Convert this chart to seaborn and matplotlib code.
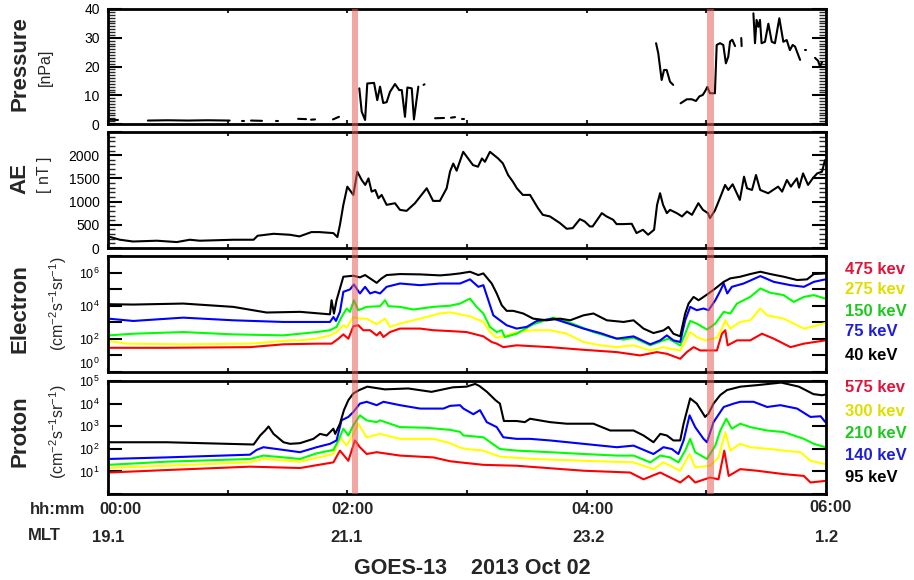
import numpy as np
import pandas as pd
import matplotlib
matplotlib.use("Agg")
import matplotlib.pyplot as plt
import seaborn as sns
from matplotlib.ticker import MultipleLocator, FixedLocator, FuncFormatter, LogLocator, NullFormatter, NullLocator

# ---------------- data (time in minutes after 00:00 UT) ----------------
# Solar-wind dynamic pressure [nPa]; NaN marks data gaps
pres_t = [1.0, 5.0, np.nan,
          20, 30, 40, 50, 61, np.nan,
          67.2, 68.2, np.nan,
          71.7, 77.2, np.nan,
          84.3, 85.1, np.nan,
          95.3, 99.3, np.nan,
          101.8, 103.8, np.nan,
          112.8, 115.8, np.nan,
          126, 127.2, 128.9, 130, 133.4, 135, 136.4, 138, 139.7, 141.4, 143.9, 146, 147.3,
          148.9, 150.1, 152.3, 153.4, 155.6, np.nan,
          158.2, 158.7, np.nan,
          164, 168.5, np.nan,
          172, 174, np.nan,
          177.7, 178.3, np.nan,
          274.8, 275.9, 277.6, 278.8, 280.1, 281.8, 283.4, np.nan,
          287.1, 290.2, 292.7, 294.8, 296.5, 298.2, 299.3, 300.5, 301.8, 304.3, 305.2, 306.9,
          308.5, 309.8, 311.0, 311.9, 313.0, 314.4, np.nan,
          317.5, 317.7, np.nan,
          323.6, 324.4, 325.2, 326.1, 326.9, 327.7, 329.4, 331.1, 332.8, 334.4, 336.6, 338.6,
          340.3, 341.9, 343.3, 344.5, 347.0, np.nan,
          349.3, 349.8, np.nan,
          354.5, 356, 357, 358]
pres_nPa = [1.5, 1.4, np.nan,
            1.2, 1.3, 1.2, 1.3, 1.2, np.nan,
            1.0, 1.0, np.nan,
            1.2, 1.1, np.nan,
            0.9, 0.9, np.nan,
            1.8, 1.7, np.nan,
            1.5, 1.6, np.nan,
            1.6, 2.5, np.nan,
            12.4, 4.3, 1.4, 14.1, 14.3, 8.3, 13.0, 7.3, 7.6, 11.2, 13.9, 11.8, 11.8,
            2.5, 12.7, 12.4, 1.6, 13.0, np.nan,
            13.6, 13.8, np.nan,
            2.0, 2.1, np.nan,
            2.2, 2.4, np.nan,
            1.7, 1.7, np.nan,
            28.1, 24.6, 15.3, 18.8, 18.8, 14.7, 13.6, np.nan,
            7.2, 8.6, 8.6, 8.0, 9.6, 10.1, 11.3, 12.9, 10.7, 10.7, 27.5, 28.1,
            27.5, 21.1, 23.4, 28.7, 29.3, 27.1, np.nan,
            29.9, 27.1, np.nan,
            38.5, 28.1, 36.2, 33.8, 36.2, 28.1, 28.6, 34.9, 28.6, 28.1, 36.8, 28.6,
            29.2, 25.7, 27.5, 26.9, 22.3, np.nan,
            25.7, 25.7, np.nan,
            23, 22, 20, 21.5]

# AE index [nT]
ae_t = [0, 6, 12.5, 24.5, 34.5, 41, 46, 63, 73, 75, 83, 91.3, 96, 102, 106, 113, 115, 116.3,
        118, 120, 123, 125, 127.2, 129, 130.6, 132.2, 134, 135.6, 137.2, 139.7, 143.9, 146.4,
        149.7, 153.9, 159.8, 163, 166.4, 169.8, 171.5, 173.1, 174.8, 178.1, 183, 185.5, 187.5,
        189, 191.5, 195.6, 198, 200.6, 203, 205, 208, 211.6, 215.6, 218, 221.6, 226.6, 230,
        233, 236.6, 239, 241.6, 243, 247.6, 250, 253.3, 255, 258.2, 262.6, 265, 268.2, 270.8,
        273.8, 275.3, 276.8, 278.3, 280.2, 281.8, 285.2, 287.8, 290.3, 292.8, 296, 298.3,
        300.8, 301.8, 304.3, 306.8, 309.4, 311, 313.2, 316.8, 318.9, 320.4, 322.9, 324.9, 327,
        331, 336, 338, 340.4, 342.4, 345.4, 346.5, 348.5, 351, 353.6, 355.6, 358, 359.5]
ae_nT = [250, 178, 140, 157, 128, 178, 157, 178, 178, 264, 306, 285, 250, 343, 343, 321, 236,
         500, 930, 1322, 1144, 1644, 1466, 1359, 1500, 1215, 1250, 1073, 1144, 930, 965, 822,
         800, 965, 1287, 1015, 1015, 1287, 1650, 1820, 1666, 2073, 1787, 1752, 1930,
         1858, 2073, 1930, 1823, 1573, 1430, 1287, 1144, 1144, 858, 715, 680, 537, 414,
         429, 622, 572, 465, 465, 751, 680, 608, 515, 515, 522, 322, 393, 286,
         393, 930, 1180, 930, 751, 822, 751, 680, 787, 715, 965, 822,
         751, 644, 808, 1073, 1359, 1251, 1373, 1037, 1537, 1287, 1251, 1573, 1251,
         1180, 1323, 1215, 1466, 1323, 1501, 1301, 1608, 1359, 1516, 1608, 1644, 1894]

# Electron flux, log10(cm^-2 s^-1 sr^-1)
e40_t = [0.2, 12.7, 37.7, 62.8, 79.5, 96.3, 111.3, 112.1, 113.3, 114.6, 116.3, 118, 123, 126.3,
         128.9, 131.4, 134.7, 137.2, 139.7, 146.4, 156.5, 166.5, 171.5, 176.5, 181.5, 185.7,
         188.2, 192.4, 194.9, 197.4, 199.9, 203.2, 208.2, 213.2, 219.9, 226.6, 231.7, 238.4,
         243.4, 250.1, 258.5, 263.5, 268.5, 273.5, 278.5, 281, 283.5, 286.9, 289.4, 291.1,
         293.6, 296.1, 298.6, 301.1, 304.5, 308.7, 312, 317, 322, 327.1, 332.1, 338.8, 345.5,
         350.5, 353.9, 359.7]
e40_log = [4.09, 4.07, 4.13, 3.93, 3.59, 3.63, 3.48, 4.33, 3.52, 4.33, 5.04, 5.75, 5.81, 5.71,
           5.85, 5.65, 5.38, 5.65, 5.85, 5.91, 5.89, 5.83, 5.88, 5.95, 6.05, 5.85,
           5.95, 5.34, 4.74, 4.03, 3.69, 3.69, 3.53, 3.22, 3.12, 3.22, 3.12, 3.42,
           3.53, 3.12, 3.02, 3.12, 2.62, 2.35, 2.51, 2.72, 2.31, 2.15, 3.53, 4.13,
           4.53, 4.33, 4.53, 4.74, 5.04, 5.44, 5.65, 5.75, 5.91, 6.05, 5.91, 5.75, 5.55,
           5.59, 5.91, 5.95]

e75_t = [0.2, 12.7, 37.7, 62.8, 87.9, 111.3, 113, 114.3, 116.3, 118, 121.3, 123.3, 126.3, 128.9,
         131.4, 133.9, 136.4, 139.7, 146.4, 156.5, 166.5, 171.5, 176.5, 181.5, 185.7, 188.2,
         190.7, 193.2, 196.5, 199.9, 204.9, 209.9, 215, 223.3, 230, 238.4, 246.8, 255.1, 263.5,
         271.9, 276.9, 280.2, 283.5, 286.9, 289.4, 291.9, 295.2, 298.6, 301.1, 304.5, 307,
         308.7, 310.5, 312.8, 318.7, 327.1, 333.8, 342.2, 348.9, 353.9, 359.7]
e75_log = [3.22, 3.08, 3.28, 3.12, 3.02, 3.02, 3.32, 3.08, 3.63, 4.84, 4.98, 5.28, 4.74, 5.14,
           4.74, 4.84, 4.74, 5.14, 5.34, 5.24, 5.34, 5.34, 5.34, 5.59, 5.14, 5.24,
           4.33, 3.42, 3.12, 2.82, 2.62, 2.72, 3.08, 3.22, 2.96, 2.62, 2.35, 2.01, 2.15,
           1.67, 1.91, 2.21, 1.91, 1.81, 3.12, 3.93, 3.73, 3.83, 3.73, 4.33, 4.9,
           5.34, 4.74, 5.14, 5.34, 5.79, 5.44, 5.24, 5.14, 5.44, 5.59]

e150_t = [0.2, 12.7, 37.7, 62.8, 87.9, 104.6, 111.3, 114.6, 117.1, 119.7, 121.3, 123.3, 125.5,
          129.7, 136.4, 138.9, 140.6, 146.4, 153.1, 163.1, 171.5, 176.5, 181.5, 184.8, 188.2,
          191.5, 194.9, 197.4, 199, 204.9, 213.2, 223.3, 228.3, 235, 243.4, 251.8, 258.5, 263.5,
          271.9, 278.5, 281, 286.9, 289.4, 291.9, 295.2, 300.3, 304.5, 308.7, 312, 315.4, 322,
          327.1, 332.1, 338.8, 343.8, 348.9, 353.9, 359.7]
e150_log = [2.21, 2.31, 2.41, 2.27, 2.21, 2.41, 2.52, 2.72, 3.32, 3.83, 3.63, 4.33, 3.73,
            3.93, 3.97, 4.33, 3.97, 3.93, 3.77, 3.93, 4.0, 4.13, 4.43, 3.93, 3.53,
            2.72, 2.41, 2.52, 2.11, 2.31, 2.88, 3.28, 3.12, 2.82, 2.41, 2.11, 1.95, 2.07,
            1.61, 1.91, 2.01, 1.61, 2.31, 3.08, 2.92, 2.56, 2.92, 3.63, 3.53, 4.13, 4.53,
            5.04, 4.78, 4.64, 4.23, 4.53, 4.64, 4.43]

e275_t = [0.2, 9.4, 37.7, 71.2, 91.3, 96.3, 104.6, 111.3, 114.6, 118, 119.7, 123, 126.3, 129.7,
          134.7, 138.9, 141.4, 146.4, 156.5, 166.5, 171.5, 181.5, 188.2, 191.5, 194.9, 198.2,
          204.9, 213.2, 221.6, 230, 238.4, 246.8, 255.1, 263.5, 271.9, 278.5, 281.8, 286.9,
          289.4, 291.9, 295.2, 299.4, 305.3, 307.8, 309.5, 312, 317, 322, 327.1, 330.5, 338.8,
          348.9, 353.9, 359.7]
e275_log = [1.87, 1.71, 1.67, 1.71, 1.91, 1.91, 2.01, 2.21, 2.41, 2.82, 2.68, 3.32, 3.22, 3.22,
            2.88, 3.22, 2.72, 2.92, 3.22, 3.53, 3.6, 3.36, 3.02, 2.41, 2.07, 2.15,
            2.41, 2.52, 2.52, 2.31, 1.81, 1.61, 1.50, 1.61, 1.30, 1.50, 1.40, 1.30,
            1.81, 2.41, 2.11, 1.91, 2.07, 2.62, 3.12, 2.62, 3.02, 3.12, 3.83, 3.42, 3.22,
            2.62, 2.76, 2.96]

e475_t = [0.2, 29.4, 71.2, 87.9, 104.6, 112.1, 115.5, 118, 120.5, 123, 125.5, 128, 131.4,
          134.7, 136.4, 138.1, 141.4, 146.4, 156.5, 163.1, 171.5, 179.8, 188.2, 192.4, 194.9,
          198.2, 204.9, 221.6, 238.4, 255.1, 266.8, 275.2, 280.2, 286.9, 290.2, 293.6, 296.9,
          305.3, 307.8, 309.5, 310.7, 315.4, 322, 327.9, 333.8, 342.2, 348.9, 359.7]
e475_log = [1.46, 1.46, 1.50, 1.67, 1.71, 1.71, 2.01, 2.27, 2.01, 2.76, 2.82, 2.52, 2.52,
            2.21, 2.41, 2.11, 2.41, 2.62, 2.62, 2.52, 2.47, 2.41, 2.15, 1.81, 1.71,
            1.50, 1.61, 1.50, 1.34, 1.20, 1.00, 1.20, 1.10, 0.80, 1.20, 1.50, 1.30,
            1.30, 2.31, 2.52, 1.61, 1.91, 1.91, 2.31, 2.01, 1.50, 1.71, 1.91]

# Proton flux, log10(cm^-2 s^-1 sr^-1)
p95_t = [0.2, 29.4, 73, 76.3, 78.8, 80.5, 83, 88, 91.3, 96.3, 103, 106.3, 109.7, 113, 113.9,
         116.3, 118.3, 120.5, 123, 126, 130, 138.8, 150.5, 162.2, 172.9, 179.7, 184.1, 186.2,
         190, 194.3, 196.5, 198.5, 204.9, 209, 211.6, 221.6, 230, 243.4, 251.8, 263.5, 268.5,
         273.5, 276.9, 280.2, 283.5, 286.9, 288.6, 291.9, 295.2, 299.4, 301.1, 303.6, 307,
         310.4, 317.1, 325.9, 337.5, 346.4, 353.7, 358, 359.7]
p95_log = [2.29, 2.29, 2.19, 2.59, 2.81, 2.99, 2.66, 2.29, 2.22, 2.25, 2.44, 2.66, 2.59, 2.89,
           2.66, 3.11, 3.71, 4.15, 4.45, 4.6, 4.75, 4.63, 4.67, 4.52, 4.72, 4.75, 4.87, 4.78,
           4.52, 4.15, 4.0, 3.23, 3.23, 3.18, 3.33, 3.18, 3.11, 3.11, 2.81, 2.81, 2.59,
           2.29, 2.66, 2.59, 2.37, 2.37, 3.11, 4.23, 4.0, 3.41, 3.56, 4.0, 4.38,
           4.6, 4.75, 4.82, 4.93, 4.75, 4.42, 4.37, 4.4]

p140_t = [0.2, 29.4, 71.2, 74.5, 77.9, 88, 96.3, 104.6, 111.3, 114.6, 117.1, 120.5, 123, 126.3,
          129.7, 134.7, 138.1, 146.4, 156.5, 168.2, 171.5, 176.5, 178.2, 183.2, 186.5, 189.9,
          194.9, 198.2, 204.9, 211.6, 221.6, 238.4, 255.1, 263.5, 273.5, 278.5, 282.7, 286,
          288.6, 291.6, 294.4, 298.6, 300.3, 303.6, 308.7, 313.7, 317, 323.7, 330.5, 337.1,
          345.5, 352.2, 357.3, 359.7]
p140_log = [1.55, 1.62, 1.74, 1.95, 2.07, 1.95, 1.85, 2.07, 2.22, 2.37, 3.26, 3.41, 3.63, 4.0,
            4.08, 3.93, 4.08, 3.93, 3.78, 3.78, 3.9, 3.93, 3.78, 3.53, 3.71, 3.18,
            2.96, 2.51, 2.44, 2.44, 2.37, 2.22, 2.07, 2.14, 1.77, 2.07, 1.99, 1.77,
            2.37, 3.48, 2.96, 2.44, 2.29, 3.18, 3.85, 4.0, 4.08, 4.08, 3.85, 3.93,
            3.78, 3.41, 3.44, 3.18]

p210_t = [0.2, 29.4, 71.2, 77.9, 88, 96.3, 104.6, 113, 115.5, 118, 120.5, 123, 126.3, 129.7,
          134.7, 136.4, 146.4, 159.8, 171.5, 176.5, 178.2, 188.2, 196.5, 204.9, 221.6, 238.4,
          255.1, 263.5, 271.9, 276.9, 281.8, 286, 289.4, 291.9, 294.4, 300.3, 304.5, 307, 310,
          312.8, 317, 322, 330.5, 338.8, 348.9, 353.9, 359.7]
p210_log = [1.29, 1.43, 1.55, 1.70, 1.62, 1.55, 1.80, 1.95, 2.37, 2.89, 2.59, 3.04, 3.48, 3.26,
            3.18, 3.26, 2.96, 2.93, 2.84, 2.75, 2.59, 2.51, 1.99, 1.92, 1.85, 1.77,
            1.70, 1.70, 1.40, 1.70, 1.62, 1.40, 1.92, 2.44, 1.85, 1.55, 2.14, 2.81, 3.33,
            2.89, 3.11, 2.96, 2.81, 2.74, 2.44, 2.22, 2.07]

p300_t = [0.2, 29.4, 71.2, 77.9, 96.3, 113, 116.3, 119.7, 123, 125.5, 129.7, 136.4, 146.4, 163.1,
          171.5, 176.5, 179.8, 188.2, 196.5, 213.2, 238.4, 263.5, 273.5, 278.5, 286.9, 291.6,
          294.4, 301.9, 306.1, 309.5, 312, 317, 322, 332.1, 338.8, 347.2, 352.2, 359.7]
p300_log = [1.15, 1.25, 1.40, 1.55, 1.43, 1.77, 2.51, 2.14, 2.66, 3.11, 2.51, 2.66, 2.44, 2.44,
            2.25, 2.05, 1.99, 1.92, 1.65, 1.55, 1.47, 1.40, 1.10, 1.40, 1.03, 1.77,
            1.18, 1.25, 1.62, 2.74, 1.92, 2.22, 2.07, 1.99, 1.92, 1.85, 1.47, 1.32]

p575_t = [0.2, 29.4, 71.2, 96.3, 113, 116.3, 120.5, 123.8, 126.3, 129.7, 134.7, 146.4, 163.1,
          171.5, 176.5, 188.2, 204.9, 238.4, 261.8, 268.5, 276.9, 286.9, 291.1, 294.4, 301.9,
          306.1, 309, 311.2, 317, 325.4, 338.8, 348.9, 352.2, 359.7]
p575_log = [0.95, 1.06, 1.21, 1.15, 1.40, 1.92, 1.47, 2.37, 2.07, 1.77, 1.85, 1.70, 1.62,
            1.45, 1.40, 1.29, 1.25, 1.03, 0.95, 0.65, 0.95, 0.51, 0.80, 0.51, 0.73,
            0.65, 1.92, 0.80, 1.10, 1.03, 0.88, 0.80, 0.51, 0.58]

# Channel names, in the order they are listed beside the panels
elec_names = ["475 kev", "275 kev", "150 keV", "75 keV", "40 keV"]
prot_names = ["575 kev", "300 kev", "210 keV", "140 keV", "95 keV"]

# Substorm onset markers (minutes)
onset_windows = [(122.2, 125.5), (300.5, 303.8)]

# Bottom annotations
ut_labels = ["00:00", "02:00", "04:00", "06:00"]
mlt_labels = ["19.1", "21.1", "23.2", "1.2"]
title_text = "GOES-13    2013 Oct 02"

# ---------------- styling ----------------
sns.set_style("white")
plt.rcParams["font.family"] = ["Liberation Sans", "DejaVu Sans"]
plt.rcParams["mathtext.fontset"] = "custom"
plt.rcParams["mathtext.rm"] = "Liberation Sans"
plt.rcParams["mathtext.it"] = "Liberation Sans:italic"
plt.rcParams["mathtext.bf"] = "Liberation Sans:bold"

line_colors = ["#ff0000", "#ffff00", "#00ff00", "#0000ff", "#000000"]
text_colors = ["#e0153c", "#dede00", "#1ec81e", "#1e1ed8", "#000000"]

W_PX, H_PX = 914, 580
fig = plt.figure(figsize=(W_PX / 100, H_PX / 100), dpi=100)
X0, X1 = 108, 826


def panel(top, bottom):
    return fig.add_axes([X0 / W_PX, 1 - bottom / H_PX, (X1 - X0) / W_PX, (bottom - top) / H_PX])


ax_p = panel(9, 124)
ax_ae = panel(132, 248)
ax_e = panel(256, 372)
ax_pr = panel(381, 494)
axes = [ax_p, ax_ae, ax_e, ax_pr]

# ---------------- draw data ----------------
pres = pd.DataFrame({"t": pres_t, "p": pres_nPa})
pres["seg"] = pres["p"].isna().cumsum()
pres = pres.dropna()
sns.lineplot(data=pres, x="t", y="p", units="seg", estimator=None, color="black",
             lw=1.5, ax=ax_p, sort=False)

ae = pd.DataFrame({"t": ae_t, "ae": ae_nT})
sns.lineplot(data=ae, x="t", y="ae", estimator=None, color="black", lw=1.5, ax=ax_ae)


def flux_frame(names, times, logs):
    parts = []
    for n, t, v in zip(names, times, logs):
        parts.append(pd.DataFrame({"t": t, "flux": np.power(10.0, v), "channel": n}))
    return pd.concat(parts, ignore_index=True)


elec = flux_frame(elec_names,
                  [e475_t, e275_t, e150_t, e75_t, e40_t],
                  [e475_log, e275_log, e150_log, e75_log, e40_log])
prot = flux_frame(prot_names,
                  [p575_t, p300_t, p210_t, p140_t, p95_t],
                  [p575_log, p300_log, p210_log, p140_log, p95_log])

for ax, df, names in [(ax_e, elec, elec_names), (ax_pr, prot, prot_names)]:
    ax.set_yscale("log")
    sns.lineplot(data=df, x="t", y="flux", hue="channel", hue_order=names,
                 palette=dict(zip(names, line_colors)), estimator=None,
                 legend=False, lw=1.5, ax=ax)

# ---------------- axes ----------------
ax_p.set_ylim(0, 40)
ax_p.yaxis.set_major_locator(MultipleLocator(10))
ax_p.yaxis.set_minor_locator(MultipleLocator(1))

ax_ae.set_ylim(0, 2500)
ax_ae.yaxis.set_major_locator(FixedLocator([0, 500, 1000, 1500, 2000, 2500]))
ax_ae.yaxis.set_major_formatter(FuncFormatter(lambda v, p: "" if v > 2000 else f"{v:.0f}"))
ax_ae.yaxis.set_minor_locator(MultipleLocator(100))

ax_e.set_ylim(1, 1e7)
ax_e.yaxis.set_major_locator(FixedLocator([10.0 ** k for k in range(8)]))
ax_e.yaxis.set_major_formatter(FuncFormatter(
    lambda v, p: (r"$\mathregular{10^{%d}}$" % round(np.log10(v))) if round(np.log10(v)) % 2 == 0
    and v < 1e7 else ""))
ax_e.yaxis.set_minor_locator(NullLocator())

ax_pr.set_ylim(1, 1e5)
ax_pr.yaxis.set_major_locator(FixedLocator([10.0 ** k for k in range(6)]))
ax_pr.yaxis.set_major_formatter(FuncFormatter(
    lambda v, p: (r"$\mathregular{10^{%d}}$" % round(np.log10(v))) if v > 1 else ""))
ax_pr.yaxis.set_minor_locator(LogLocator(base=10, subs=np.arange(2, 10)))
ax_pr.yaxis.set_minor_formatter(NullFormatter())

for ax in axes:
    ax.set_xlim(0, 360)
    ax.xaxis.set_major_locator(MultipleLocator(60))
    ax.xaxis.set_minor_locator(NullLocator())
    ax.set_xticklabels([])
    ax.set_xlabel("")
    ax.set_ylabel("")
    ax.set_facecolor("white")
    for s in ax.spines.values():
        s.set_visible(True)
        s.set_linewidth(2.0)
        s.set_color("black")
    ax.tick_params(axis="y", which="major", direction="in", left=True, right=True,
                   length=10, width=1.5, labelsize=10, pad=6, colors="black")
    ax.tick_params(axis="y", which="minor", direction="in", left=True, right=True,
                   length=5, width=1.0)
    ax.tick_params(axis="x", which="major", direction="in", top=True, bottom=True,
                   length=3, width=1.5)

# Flux panels carry slightly smaller decade labels
for ax in (ax_e, ax_pr):
    ax.tick_params(axis="y", which="major", labelsize=9)

# Keep the bottom electron label inside its own panel
fig.canvas.draw()
for tk in ax_e.yaxis.get_major_ticks():
    if np.isclose(tk.get_loc(), 1.0):
        tk.label1.set_verticalalignment("bottom")

# Onset bands drawn over every panel, through the gaps between them
band_ax = fig.add_axes([X0 / W_PX, 1 - 494 / H_PX, (X1 - X0) / W_PX, (494 - 9) / H_PX])
band_ax.set_xlim(0, 360)
band_ax.set_ylim(0, 1)
band_ax.axis("off")
band_ax.patch.set_alpha(0)
for a, b in onset_windows:
    band_ax.axvspan(a, b, color="#e8605c", alpha=0.55, lw=0)

# ---------------- labels ----------------
def ylab(main, unit, y_main, y_unit, x_unit):
    fig.text(20 / W_PX, 1 - y_main / H_PX, main, rotation=90, ha="center", va="center",
             fontsize=16, fontweight="bold")
    fig.text(x_unit / W_PX, 1 - y_unit / H_PX, unit, rotation=90, ha="center", va="center",
             fontsize=11.5)


ylab("Pressure", "[nPa]", 64, 67, 45)
ylab("AE", "[ nT ]", 178, 175, 45)
ylab("Electron", r"(cm$^{-2}$s$^{-1}$sr$^{-1}$)", 309, 304, 58)
ylab("Proton", r"(cm$^{-2}$s$^{-1}$sr$^{-1}$)", 431, 432, 58)

for names, ys in [(elec_names, [269, 290, 311, 332, 355]),
                  (prot_names, [388, 412, 434, 455, 477])]:
    for n, y, c in zip(names, ys, text_colors):
        fig.text(845 / W_PX, 1 - y / H_PX, n, color=c, fontsize=12, fontweight="bold",
                 ha="left", va="center")

fig.text(58 / W_PX, 1 - 510 / H_PX, "hh:mm", fontsize=12, fontweight="bold", ha="center", va="center")
fig.text(44 / W_PX, 1 - 535 / H_PX, "MLT", fontsize=12, fontweight="bold", ha="center", va="center")
for lab, xc, yc in zip(ut_labels, [120, 353, 592, 831], [510, 510, 510, 507]):
    fig.text(xc / W_PX, 1 - yc / H_PX, lab, fontsize=12, fontweight="bold", ha="center", va="center")
for lab, xc in zip(mlt_labels, [108, 347, 589, 827]):
    fig.text(xc / W_PX, 1 - 537 / H_PX, lab, fontsize=12, fontweight="bold", ha="center", va="center")
fig.text(472 / W_PX, 1 - 568 / H_PX, title_text, fontsize=15.5, fontweight="bold",
         ha="center", va="center")

fig.savefig("out.png", dpi=100, facecolor="white")
